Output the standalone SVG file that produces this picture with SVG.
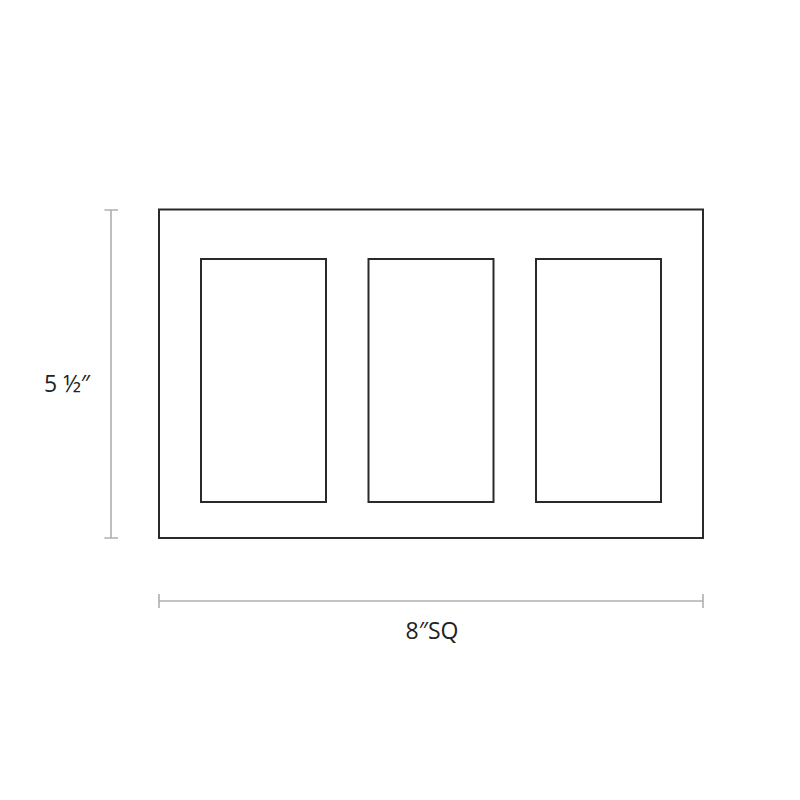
<svg xmlns="http://www.w3.org/2000/svg" width="800" height="800" viewBox="0 0 800 800">
<style>
.frame{fill:none;stroke:#2a2a2a;stroke-width:2}
.dim{fill:none;stroke:#b0b0b0;stroke-width:1.6}
.lbl{font-family:"Open Sans","Liberation Sans",sans-serif;font-size:23px;fill:#222}
</style>
<rect width="800" height="800" fill="#fff"/>
<g id="frame">
<rect class="frame" x="159" y="209.5" width="544" height="328.5"/>
</g>
<g id="opening1"><rect class="frame" x="201" y="259" width="125" height="243"/></g>
<g id="opening2"><rect class="frame" x="368.5" y="259" width="125" height="243"/></g>
<g id="opening3"><rect class="frame" x="536" y="259" width="125" height="243"/></g>
<g id="connectors">
<path class="dim" d="M111 210V538M104.5 210H118M104.5 538H118"/>
<path class="dim" d="M159 601H703M159 594V608M703 594V608"/>
</g>
<g id="labels">
<text class="lbl" x="44" y="392">5 ½″</text>
<text class="lbl" x="432" y="639" text-anchor="middle">8″SQ</text>
</g>
</svg>
